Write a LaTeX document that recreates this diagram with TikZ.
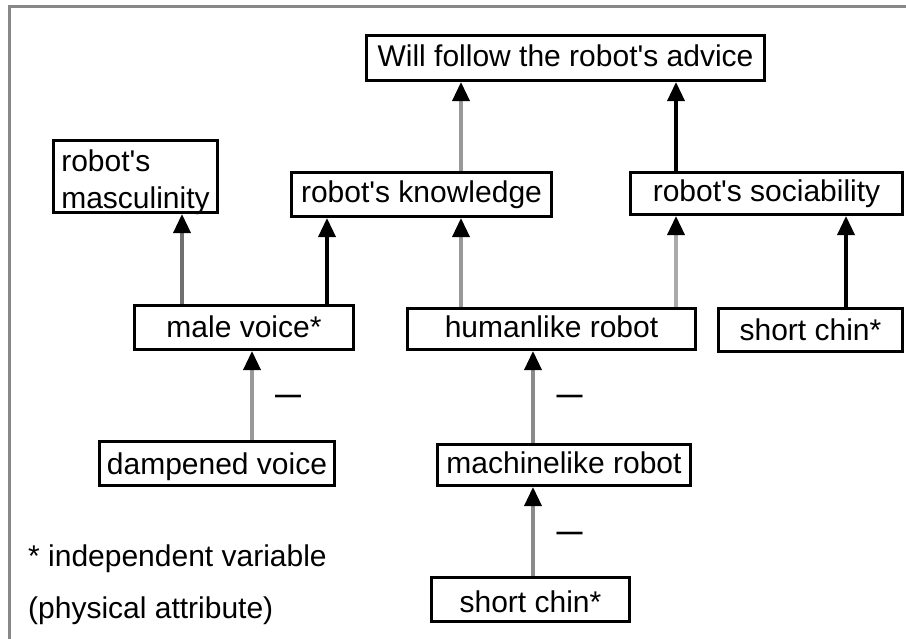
\documentclass[tikz,border=0pt]{standalone}
\usepackage{fontspec}
\setmainfont{Liberation Sans}
\usetikzlibrary{arrows.meta}
\definecolor{framegray}{HTML}{888888}
\definecolor{gA}{HTML}{707070}
\definecolor{gB}{HTML}{999999}
\definecolor{gC}{HTML}{AAAAAA}
\definecolor{gD}{HTML}{8A8A8A}
\newcommand{\apos}{\textquotesingle}
\tikzset{
  box/.style={draw=black, line width=3pt, rectangle, inner sep=0pt,
    font=\fontsize{30}{37}\selectfont, text height=22pt, text depth=6pt},
  con/.style={line width=3.5pt, -{Triangle[width=17pt,length=19pt,color=black]}},
  minuslab/.style={inner sep=0pt, font=\fontsize{26}{30}\selectfont\bfseries, text height=14pt, text depth=0pt},
  legend/.style={inner sep=0pt, anchor=west, font=\fontsize{30}{37}\selectfont, text height=22pt, text depth=6pt}
}
\begin{document}
\begin{tikzpicture}[x=1pt,y=-1pt]
\useasboundingbox (0,0) rectangle (906,638);
\draw[framegray, line width=3pt] (9,650) -- (9,6) -- (920,6);

% column coordinates for connectors
\coordinate (c1) at (182,0);
\coordinate (c2) at (327,0);
\coordinate (c3) at (461,0);
\coordinate (c4) at (676,0);
\coordinate (c5) at (846,0);
\coordinate (c6) at (252,0);
\coordinate (c7) at (533,0);

\node[box, minimum width=398pt, minimum height=45pt] (will) at (565.5,58) {Will follow the robot\apos s advice};
\node[box, minimum width=164pt, minimum height=72pt, align=left, text height=63pt, text depth=0pt] (masc) at (135.5,176.5) {robot\apos s\\masculinity};
\node[box, minimum width=260pt, minimum height=44pt] (know) at (421.5,194.5) {robot\apos s knowledge};
\node[box, minimum width=272pt, minimum height=42pt] (soc) at (766.5,193.5) {robot\apos s sociability};
\node[box, minimum width=219pt, minimum height=44pt, text height=26.6pt] (male) at (244,327.5) {male voice*};
\node[box, minimum width=288pt, minimum height=41pt] (human) at (551.5,329) {humanlike robot};
\node[box, minimum width=184pt, minimum height=43pt, text height=27.6pt] (chinR) at (810.5,330) {short chin*};
\node[box, minimum width=235pt, minimum height=44pt, text height=28.6pt] (damp) at (217,463.5) {dampened voice};
\node[box, minimum width=253pt, minimum height=41pt] (mach) at (564,465) {machinelike robot};
\node[box, minimum width=198pt, minimum height=44pt, text height=32.6pt] (chinB) at (530.5,599.5) {short chin*};

\draw[con, gB] (know.north -| c3) -- (will.south -| c3);
\draw[con, black] (soc.north -| c4) -- (will.south -| c4);
\draw[con, gA] (male.north -| c1) -- (masc.south -| c1);
\draw[con, black] (male.north -| c2) -- (know.south -| c2);
\draw[con, gB] (human.north -| c3) -- (know.south -| c3);
\draw[con, gC] (human.north -| c4) -- (soc.south -| c4);
\draw[con, black] (chinR.north -| c5) -- (soc.south -| c5);
\draw[con, gB] (damp.north -| c6) -- (male.south -| c6);
\draw[con, gD] (mach.north -| c7) -- (human.south -| c7);
\draw[con, gD] (chinB.north -| c7) -- (mach.south -| c7);

\node[minuslab] (m1) at (288,396) {—};
\node[minuslab] (m2) at (569.5,396) {—};
\node[minuslab] (m3) at (569.5,533) {—};

\node[legend] (leg1) at (28,558) {* independent variable};
\node[legend] (leg2) at (28,610) {(physical attribute)};
\end{tikzpicture}
\end{document}
